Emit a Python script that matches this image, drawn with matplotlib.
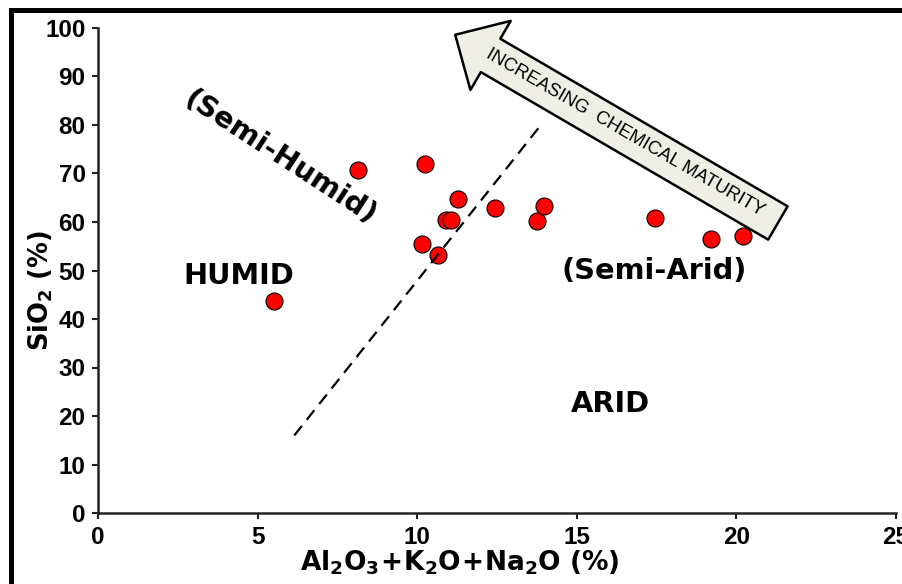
import matplotlib
matplotlib.use("Agg")
import matplotlib.pyplot as plt
from matplotlib.patches import Rectangle

# -------------------------
# DATA
# -------------------------
alk_sum = [5.5, 8.15, 10.25, 10.15, 10.65, 10.9, 11.05, 11.27, 12.45, 13.75, 13.98, 17.45, 19.2, 20.2]
sio2 = [43.7, 70.7, 71.9, 55.4, 53.2, 60.4, 60.4, 64.7, 62.9, 60.3, 63.2, 60.8, 56.5, 57.2]

# humid / arid boundary (dashed)
bound_x = [6.15, 13.9]
bound_y = [16.0, 80.2]

region_names = ["HUMID", "(Semi-Humid)", "(Semi-Arid)", "ARID"]
region_x = [4.41, 5.72, 17.44, 16.06]
region_y = [48.9, 73.2, 49.9, 22.5]
region_rot = [0, -33, 0, 0]

xticks = [0, 5, 10, 15, 20, 25]
yticks = list(range(0, 101, 10))

# -------------------------
# PLOT
# -------------------------
plt.rcParams["mathtext.fontset"] = "custom"
plt.rcParams["mathtext.rm"] = "DejaVu Sans:bold"
plt.rcParams["mathtext.bf"] = "DejaVu Sans:bold"
plt.rcParams["mathtext.it"] = "DejaVu Sans:bold"

fig = plt.figure(figsize=(9.02, 5.84), dpi=100)
ax = fig.add_axes([98 / 902, 71 / 584, 798 / 902, 485 / 584])

ax.plot(bound_x, bound_y, color="black", lw=1.6, ls=(0, (5.5, 3.5)), zorder=3)
ax.scatter(alk_sum, sio2, s=150, color="#ff0000", edgecolor="black", linewidth=0.8, zorder=2)

for name, x, y, r in zip(region_names, region_x, region_y, region_rot):
    ax.text(x, y, name, ha="center", va="center", rotation=r, rotation_mode="anchor",
            fontsize=20.8, fontweight="bold", family="DejaVu Sans")

# arrow
ax.annotate("", xy=(11.19, 98.6), xytext=(21.3, 59.8),
            arrowprops=dict(arrowstyle="simple,head_length=2.95,head_width=5.76,tail_width=2.78",
                            mutation_scale=10, fc="#efeee7", ec="black", lw=1.8,
                            shrinkA=0, shrinkB=0))
ax.text(16.5, 78.4, "INCREASING  CHEMICAL MATURITY", ha="center", va="center",
        rotation=-30, rotation_mode="anchor", fontsize=13.3, family="Liberation Sans")

ax.set_xlim(0, 25)
ax.set_ylim(0, 100)
ax.set_xticks(xticks)
ax.set_yticks(yticks)
ax.spines["top"].set_visible(False)
ax.spines["right"].set_visible(False)
for s in ["left", "bottom"]:
    ax.spines[s].set_linewidth(1.8)
    ax.spines[s].set_color("#222222")
ax.tick_params(length=4, width=1.5, pad=5, colors="#222222", labelcolor="black")
for lab in ax.get_xticklabels() + ax.get_yticklabels():
    lab.set_fontsize(17.5)
    lab.set_fontweight("bold")
    lab.set_family("Liberation Sans")

ax.set_xlabel(r"$\mathregular{Al_2O_3\!+\!K_2O\!+\!Na_2O}$ (%)", fontsize=19,
              fontweight="bold", family="DejaVu Sans", va="center")
ax.xaxis.set_label_coords(0.454, -0.103)
ax.set_ylabel(r"$\mathregular{SiO_2}$ (%)", fontsize=18.5, fontweight="bold",
              family="DejaVu Sans", va="center")
ax.yaxis.set_label_coords(-0.072, 0.458)

# outer frame
fig.add_artist(Rectangle((10.5 / 902, -0.2), 1.2, 1.2 - 10.5 / 584, transform=fig.transFigure,
                         fill=False, lw=3.6, ec="black", clip_on=False))

fig.savefig("out.png", dpi=100)
